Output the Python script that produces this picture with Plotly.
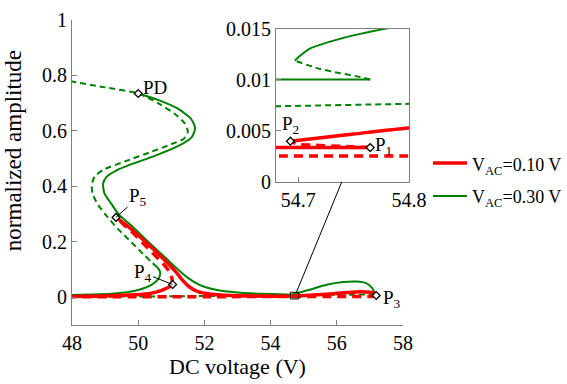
import plotly.graph_objects as go

# ---------------- data: V_AC = 0.30 V (green) ----------------
# lower stable branch, left side
g_low_x = [48.0, 48.6, 49.2, 49.7, 50.1, 50.4, 50.58, 50.66, 50.65, 50.58]
g_low_y = [0.008, 0.010, 0.013, 0.019, 0.030, 0.045, 0.062, 0.080, 0.095, 0.108]
# unstable branch: lower fold -> left bulge -> right bulge -> PD -> left edge
g_uns_x = [50.58, 50.42, 50.2, 49.8, 49.4, 49.0, 48.75, 48.62, 48.6, 48.68, 48.95, 49.6,
           50.4, 51.0, 51.38, 51.5, 51.4, 51.1, 50.6, 50.0, 49.0, 48.0]
g_uns_y = [0.108, 0.125, 0.150, 0.198, 0.245, 0.300, 0.340, 0.375, 0.405, 0.435, 0.460, 0.490,
           0.525, 0.552, 0.572, 0.598, 0.628, 0.662, 0.700, 0.735, 0.757, 0.778]
# stable branch from PD down the resonance slope
g_up_x = [50.0, 50.6, 51.2, 51.6, 51.72, 51.62, 51.2, 50.5, 49.8, 49.35, 49.05, 48.94,
          48.98, 49.2, 49.42, 49.8, 50.3, 50.8, 51.2, 51.5, 51.85, 52.35, 53.0, 53.7,
          54.3, 54.68, 54.765]
g_up_y = [0.735, 0.712, 0.680, 0.643, 0.610, 0.578, 0.545, 0.510, 0.480, 0.458, 0.435, 0.410,
          0.375, 0.335, 0.298, 0.258, 0.200, 0.145, 0.100, 0.070, 0.045, 0.027, 0.017, 0.0125,
          0.0106, 0.01005, 0.01005]
# short unstable piece between the two folds near 54.7 V
g_mid_x = [54.765, 54.756, 54.738, 54.717, 54.697]
g_mid_y = [0.01005, 0.0103, 0.01066, 0.01116, 0.0119]
# stable branch to the right fold
g_right_x = [54.697, 54.702, 54.711, 54.732, 54.756, 54.783, 54.82, 55.18, 55.69, 56.19,
             56.59, 56.89, 57.06, 57.14]
g_right_y = [0.0119, 0.0124, 0.0131, 0.01386, 0.01452, 0.01512, 0.0158, 0.027, 0.045, 0.055,
             0.057, 0.051, 0.035, 0.017]
# unstable branch back to the left along the bottom
g_bot_x = [57.14, 57.05, 56.5, 55.5, 54.8, 54.68, 53.0, 51.0, 48.0]
g_bot_y = [0.017, 0.011, 0.0095, 0.0085, 0.00766, 0.00743, 0.0055, 0.0035, 0.0015]

# ---------------- data: V_AC = 0.10 V (red) ----------------
r_low_x = [48.0, 49.0, 49.9, 50.4, 50.75, 50.93, 51.04]
r_low_y = [0.003, 0.005, 0.009, 0.015, 0.027, 0.037, 0.046]
r_uns_x = [51.04, 51.02, 50.95, 50.8, 50.5, 50.15, 49.85, 49.55, 49.33]
r_uns_y = [0.046, 0.068, 0.090, 0.115, 0.152, 0.195, 0.232, 0.264, 0.288]
r_up_x = [49.33, 49.7, 50.1, 50.55, 50.9, 51.15, 51.35, 51.55, 51.8, 52.2, 52.8, 53.6,
          54.3, 54.68, 54.765]
r_up_y = [0.288, 0.255, 0.213, 0.163, 0.122, 0.090, 0.060, 0.037, 0.020, 0.011, 0.0065,
          0.0045, 0.0037, 0.00337, 0.00337]
r_mid_x = [54.765, 54.74, 54.715, 54.70, 54.693]
r_mid_y = [0.00337, 0.0035, 0.0036, 0.0037, 0.0040]
r_right_x = [54.693, 54.75, 54.8, 55.3, 55.8, 56.3, 56.7, 57.0, 57.15, 57.19]
r_right_y = [0.0040, 0.0047, 0.0053, 0.008, 0.012, 0.017, 0.020, 0.018, 0.012, 0.0065]
r_bot_x = [57.19, 57.1, 56.0, 54.8, 54.68, 52.0, 48.0]
r_bot_y = [0.0065, 0.0035, 0.0027, 0.00254, 0.00254, 0.0022, 0.0018]

# axis ticks
main_xticks = [48, 50, 52, 54, 56, 58]
main_yticks = [0, 0.2, 0.4, 0.6, 0.8, 1]
main_yticklabels = ["0", "0.2", "0.4", "0.6", "0.8", "1"]
inset_xticks = [54.7, 54.8]
inset_yticks = [0, 0.005, 0.01, 0.015]
inset_yticklabels = ["0", "0.005", "0.01", "0.015"]
inset_xrange = [54.68, 54.8]
inset_yrange = [0, 0.015]

# legend entries
legend_names = ["V<sub>AC</sub>=0.10 V", "V<sub>AC</sub>=0.30 V"]

RED = "#ff0000"
GREEN = "#008000"
FONT = "Times New Roman, Liberation Serif, DejaVu Serif, serif"
RED_W, GREEN_W = 3.5, 2

fig = go.Figure()

branches = [
    (g_low_x, g_low_y, GREEN, GREEN_W, "solid"),
    (g_uns_x, g_uns_y, GREEN, GREEN_W, "6px,4px"),
    (g_up_x, g_up_y, GREEN, GREEN_W, "solid"),
    (g_mid_x, g_mid_y, GREEN, GREEN_W, "6px,4px"),
    (g_right_x, g_right_y, GREEN, GREEN_W, "solid"),
    (g_bot_x, g_bot_y, GREEN, GREEN_W, "6px,4px"),
    (r_low_x, r_low_y, RED, RED_W, "solid"),
    (r_uns_x, r_uns_y, RED, RED_W, "9px,6px"),
    (r_up_x, r_up_y, RED, RED_W, "solid"),
    (r_mid_x, r_mid_y, RED, RED_W, "9px,6px"),
    (r_right_x, r_right_y, RED, RED_W, "solid"),
    (r_bot_x, r_bot_y, RED, RED_W, "9px,6px"),
]

for axes in (("x", "y"), ("x2", "y2")):
    for bx, by, col, w, dash in branches:
        fig.add_trace(go.Scatter(
            x=bx, y=by, mode="lines", xaxis=axes[0], yaxis=axes[1],
            line=dict(color=col, width=w, dash=dash, shape="spline", smoothing=0.6),
            showlegend=False, hoverinfo="skip"))

# special points taken from the branch end points
pts_main = {
    "PD": (g_up_x[0], g_up_y[0]),
    "P3": (r_right_x[-1], r_right_y[-1]),
    "P4": (r_low_x[-1], r_low_y[-1]),
    "P5": (r_up_x[0], r_up_y[0]),
}
pts_inset = {
    "P1": (r_up_x[-1], r_up_y[-1]),
    "P2": (r_right_x[0], r_right_y[0]),
}
marker_style = dict(symbol="diamond", size=6, color="white", line=dict(color="black", width=1.3))
fig.add_trace(go.Scatter(x=[p[0] for p in pts_main.values()], y=[p[1] for p in pts_main.values()],
                         mode="markers", marker=marker_style, showlegend=False, hoverinfo="skip"))
fig.add_trace(go.Scatter(x=[p[0] for p in pts_inset.values()], y=[p[1] for p in pts_inset.values()],
                         mode="markers", marker=marker_style, xaxis="x2", yaxis="y2",
                         showlegend=False, hoverinfo="skip"))

lab_font = dict(family=FONT, size=19, color="black")
ann = []
ann.append(dict(x=pts_main["PD"][0], y=pts_main["PD"][1], xref="x", yref="y", text="PD",
                showarrow=False, xanchor="left", yanchor="middle", xshift=3, yshift=6, font=lab_font))
ann.append(dict(x=pts_main["P3"][0], y=pts_main["P3"][1], xref="x", yref="y", text="P<sub>3</sub>",
                showarrow=False, xanchor="left", yanchor="middle", xshift=5, yshift=-4, font=lab_font))
ann.append(dict(x=pts_main["P5"][0], y=pts_main["P5"][1], xref="x", yref="y", text="P<sub>5</sub>",
                showarrow=True, arrowhead=0, arrowwidth=1, arrowcolor="black", ax=22, ay=-20,
                font=lab_font, standoff=0))
ann.append(dict(x=pts_main["P4"][0], y=pts_main["P4"][1], xref="x", yref="y", text="P<sub>4</sub>",
                showarrow=True, arrowhead=0, arrowwidth=1, arrowcolor="black", ax=-30, ay=-12,
                font=lab_font, standoff=0))
ann.append(dict(x=pts_inset["P1"][0], y=pts_inset["P1"][1], xref="x2", yref="y2", text="P<sub>1</sub>",
                showarrow=False, xanchor="left", yanchor="middle", xshift=3, yshift=2, font=lab_font))
ann.append(dict(x=pts_inset["P2"][0], y=pts_inset["P2"][1], xref="x2", yref="y2", text="P<sub>2</sub>",
                showarrow=False, xanchor="center", yanchor="bottom", xshift=0, yshift=2, font=lab_font))
# y-axis title, placed a little above the axis centre
ann.append(dict(x=0, y=0.57, xref="paper", yref="paper", text="normalized amplitude",
                textangle=-90, showarrow=False, xanchor="center", yanchor="middle", xshift=-59,
                font=dict(family=FONT, size=23, color="black")))

# zoom box on the main axes and the leader line up to the inset
box_x = [54.6, 54.85]
box_y = [-0.006, 0.018]
leader_from = (56.15, 0.416)
shapes = [
    dict(type="rect", xref="x", yref="y", x0=box_x[0], x1=box_x[1], y0=box_y[0], y1=box_y[1],
         line=dict(color="black", width=1)),
    dict(type="line", xref="x", yref="y", x0=leader_from[0], y0=leader_from[1],
         x1=54.78, y1=box_y[1], line=dict(color="black", width=1)),
]

# legend drawn to the right of the axes (paper coordinates)
leg_x0, leg_x1, leg_text_x = 0.7293, 0.7980, 0.8041
leg_rows = [0.5311, 0.4230]
leg_font = dict(family=FONT, size=18, color="black")
for name, col, w, yy in zip(legend_names, [RED, GREEN], [RED_W, GREEN_W], leg_rows):
    shapes.append(dict(type="line", xref="paper", yref="paper", x0=leg_x0, x1=leg_x1, y0=yy, y1=yy,
                       line=dict(color=col, width=w)))
    ann.append(dict(x=leg_text_x, y=yy, xref="paper", yref="paper", text=name, showarrow=False,
                    xanchor="left", yanchor="middle", yshift=-3, font=leg_font))

axis_common = dict(showgrid=False, zeroline=False, showline=True, linecolor="#7f7f7f",
                   linewidth=1, ticks="inside", ticklen=5, tickcolor="#7f7f7f", automargin=False,
                   tickfont=dict(family=FONT, size=20, color="black"))

# paper spans x = 72..567 px (495 px); the main axes occupy 72..403 px
fig.update_layout(
    width=567, height=384, autosize=False,
    margin=dict(l=72, r=0, t=20, b=59, autoexpand=False),
    paper_bgcolor="white", plot_bgcolor="white",
    font=dict(family=FONT, color="black"),
    showlegend=False,
    xaxis=dict(domain=[0, 0.6687], range=[48, 58], tickvals=main_xticks, anchor="y",
               title=dict(text="DC voltage (V)", font=dict(family=FONT, size=22), standoff=4),
               **axis_common),
    yaxis=dict(domain=[0, 1], range=[-0.1, 1], tickvals=main_yticks, ticktext=main_yticklabels,
               anchor="x", **axis_common),
    xaxis2=dict(domain=[0.4121, 0.6808], range=inset_xrange, tickvals=inset_xticks, anchor="y2",
                mirror=True, **axis_common),
    yaxis2=dict(domain=[0.4689, 0.9705], range=inset_yrange, tickvals=inset_yticks,
                ticktext=inset_yticklabels, anchor="x2", mirror=True, **axis_common),
    annotations=ann, shapes=shapes,
)

fig.write_html("out.html")
